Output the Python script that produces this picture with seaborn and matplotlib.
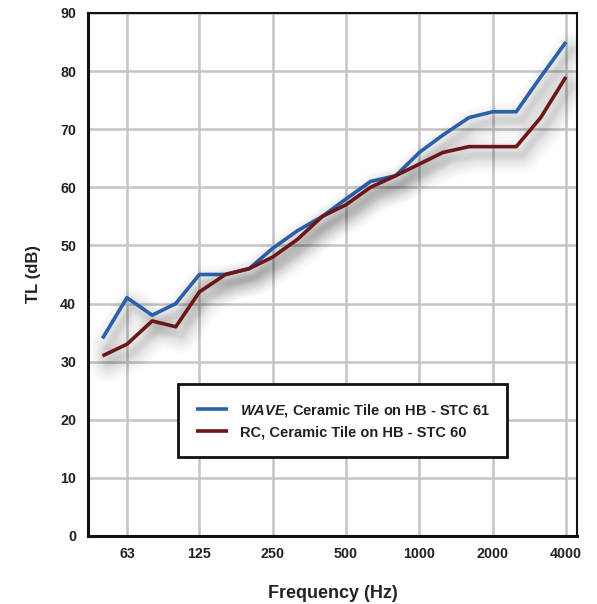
import numpy as np
import pandas as pd
import matplotlib
matplotlib.use("Agg")
import matplotlib.pyplot as plt
import matplotlib.patheffects as pe
from matplotlib.ticker import FixedLocator, NullFormatter
import seaborn as sns

sns.set_style("white")
plt.rcParams['font.family'] = ['Liberation Sans', 'DejaVu Sans']
plt.rcParams['mathtext.fontset'] = 'custom'
plt.rcParams['mathtext.bfit'] = 'Liberation Sans:italic:bold'
plt.rcParams['mathtext.rm'] = 'Liberation Sans:bold'

# 1/3 octave bands
freqs = [50, 63, 80, 100, 125, 160, 200, 250, 315, 400, 500, 630, 800,
         1000, 1250, 1600, 2000, 2500, 3150, 4000]
wave_tl = [34, 41, 38, 40, 45, 45, 46, 49.5, 52.5, 55, 58, 61, 62,
           66, 69, 72, 73, 73, 79, 85]
rc_tl = [31, 33, 37, 36, 42, 45, 46, 48, 51, 55, 57, 60, 62,
         64, 66, 67, 67, 67, 72, 79]
octave_ticks = [63, 125, 250, 500, 1000, 2000, 4000]
octave_labels = ["63", "125", "250", "500", "1000", "2000", "4000"]

lab_wave = r"$\mathbfit{WAVE}$, Ceramic Tile on HB - STC 61"
lab_rc = "RC, Ceramic Tile on HB - STC 60"

df = pd.DataFrame({
    "freq": freqs * 2,
    "TL": wave_tl + rc_tl,
    "series": [lab_wave] * len(freqs) + [lab_rc] * len(freqs),
})

fig = plt.figure(figsize=(5.97, 6.04), dpi=100)
ax = fig.add_axes([0.1474, 0.1126, 0.8191, 0.8659])

# soft blurred drop shadow under the lines
shadow = [pe.SimpleLineShadow(offset=(4, -6), shadow_color='k', alpha=0.02, linewidth=w,
                              capstyle='round', joinstyle='round')
          for w in (26, 22, 18, 15, 12, 9, 7, 5, 3.5)]

sns.lineplot(data=df, x="freq", y="TL", hue="series",
             palette={lab_wave: "#2a5fa9", lab_rc: "#6b1719"},
             linewidth=2.6, ax=ax, zorder=3, legend=False)
for ln in ax.get_lines():
    ln.set_path_effects(shadow + [pe.Normal()])
    ln.set_solid_capstyle('butt')

ax.set_xscale("log")
ax.set_xlim(43.6, 4440)
ax.set_ylim(0, 90)

ax.xaxis.set_major_locator(FixedLocator(octave_ticks))
ax.set_xticklabels(octave_labels)
ax.xaxis.set_minor_locator(FixedLocator([f for f in freqs if f not in octave_ticks]))
ax.xaxis.set_minor_formatter(NullFormatter())
ax.set_yticks(range(0, 91, 10))

ax.grid(True, which='major', color='#c4c4c4', linewidth=1.8, zorder=0)
ax.set_axisbelow(True)

ax.tick_params(axis='both', which='both', direction='out', length=5, width=1.8,
               labelsize=10.3, color='#111111')
ax.tick_params(axis='x', pad=3)
for lbl in ax.get_xticklabels() + ax.get_yticklabels():
    lbl.set_fontweight('bold')
    lbl.set_color('#222222')

for side in ['left', 'bottom']:
    ax.spines[side].set_linewidth(2.2)
    ax.spines[side].set_color('#111111')
for side in ['top', 'right']:
    ax.spines[side].set_linewidth(1.5)
    ax.spines[side].set_color('#111111')

ax.set_xlabel("Frequency (Hz)", fontsize=13, fontweight='bold', labelpad=17, color='#222222')
ax.set_ylabel("TL (dB)", fontsize=12, fontweight='bold', labelpad=14, color='#222222')

lines = ax.get_lines()
leg = ax.legend(lines[:2], [lab_wave, lab_rc], loc='upper left',
                bbox_to_anchor=(0.185, 0.29), frameon=True, fancybox=False,
                prop={'weight': 'bold', 'size': 10.5}, handlelength=2.2,
                borderpad=1.2, borderaxespad=0, labelspacing=0.45, handletextpad=0.8)
leg.get_frame().set_edgecolor('#111111')
leg.get_frame().set_linewidth(2)
leg.get_frame().set_facecolor('white')
leg.get_frame().set_alpha(1)
for t in leg.get_texts():
    t.set_color('#222222')
for h in leg.legend_handles:
    h.set_path_effects([])
    h.set_linewidth(2.6)

fig.savefig("out.png", dpi=100)
